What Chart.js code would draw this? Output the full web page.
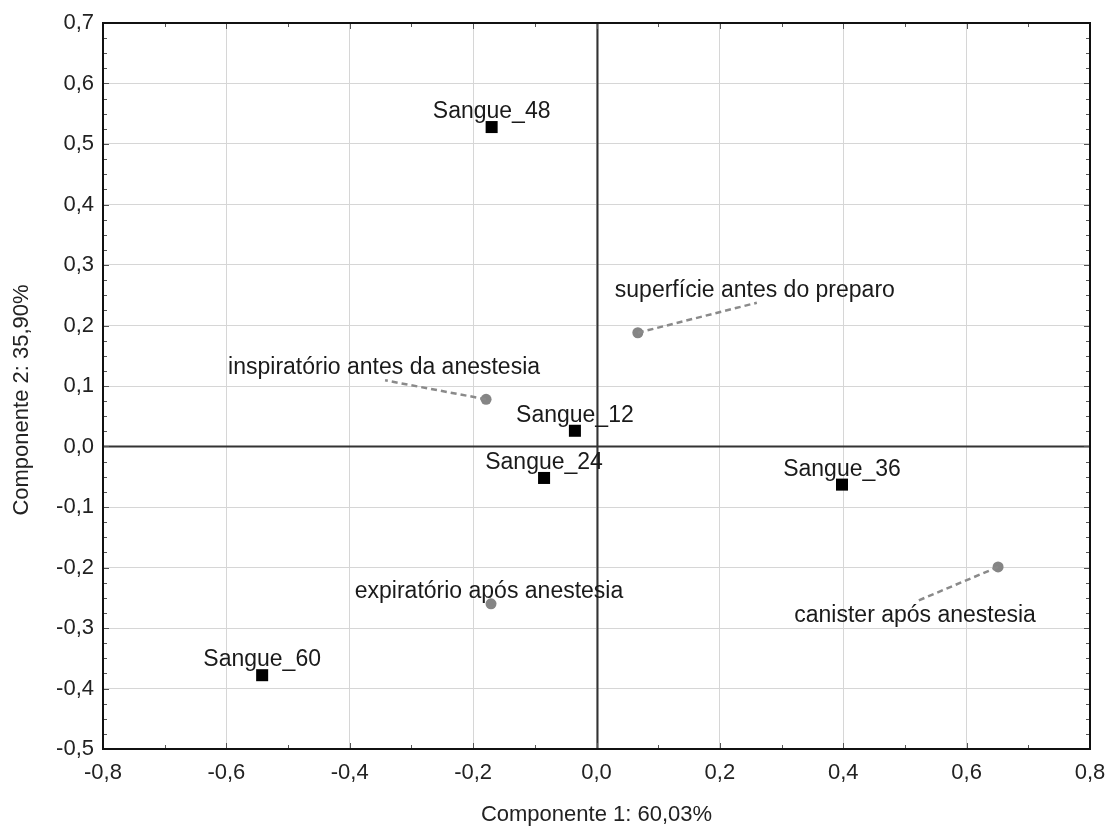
<!DOCTYPE html>
<html>
<head>
<meta charset="utf-8">
<script src="https://cdn.jsdelivr.net/npm/chart.js@4/dist/chart.umd.min.js"></script>
<style>
  html,body{margin:0;padding:0;background:#fff}
  #wrap{width:1110px;height:828px}
</style>
</head>
<body>
<div id="wrap"><canvas id="pca" width="1110" height="828"></canvas></div>
<script>
// --- dados (leitura do gráfico) ---
const sangueLabels = ["Sangue_12", "Sangue_24", "Sangue_36", "Sangue_48", "Sangue_60"];
const sangueX = [-0.035, -0.085, 0.398, -0.170, -0.542];
const sangueY = [0.026, -0.052, -0.063, 0.528, -0.378];

const amostraLabels = ["superfície antes do preparo", "inspiratório antes da anestesia", "expiratório após anestesia", "canister após anestesia"];
const amostraX = [0.067, -0.179, -0.171, 0.651];
const amostraY = [0.188, 0.078, -0.260, -0.199];

const xTicks = [-0.8, -0.6, -0.4, -0.2, 0.0, 0.2, 0.4, 0.6, 0.8];
const yTicks = [-0.5, -0.4, -0.3, -0.2, -0.1, 0.0, 0.1, 0.2, 0.3, 0.4, 0.5, 0.6, 0.7];

const xTitle = "Componente 1: 60,03%";
const yTitle = "Componente 2: 35,90%";

// posição dos rótulos em px relativa ao ponto: [dx, dy(baseline)], linha guia opcional
const sangueOffset = [0, -9];
const amostraOffset = [
  {dx: 117, dy: -36, lead: [119, -30]},
  {dx: -102, dy: -25, lead: [-101, -19]},
  {dx: -2, dy: -6, lead: null},
  {dx: -83, dy: 55, lead: [-83, 35]},
];

const FONT = "'Liberation Sans', Arial, sans-serif";
const fmt = v => (Math.abs(v) < 1e-9 ? 0 : v).toFixed(1).replace(".", ",");

const pcaDecor = {
  id: "pcaDecor",
  beforeDatasetsDraw(chart){
    const {ctx, chartArea:a, scales:{x, y}} = chart;
    ctx.save();
    // eixos em zero
    ctx.strokeStyle = "#333";
    ctx.lineWidth = 2;
    ctx.beginPath();
    const x0 = Math.round(x.getPixelForValue(0)) + 0.5;
    const y0 = Math.round(y.getPixelForValue(0)) + 0.5;
    ctx.moveTo(x0, a.top); ctx.lineTo(x0, a.bottom);
    ctx.moveTo(a.left, y0); ctx.lineTo(a.right, y0);
    ctx.stroke();

    // marcas internas (maiores e menores)
    ctx.strokeStyle = "#555";
    ctx.lineWidth = 1;
    ctx.beginPath();
    for (let i = 0; i <= 16; i++){
      const v = -0.8 + i * 0.1;
      const px = Math.round(x.getPixelForValue(v)) + 0.5;
      const len = i % 2 === 0 ? 6 : 4;
      ctx.moveTo(px, a.bottom); ctx.lineTo(px, a.bottom - len);
      ctx.moveTo(px, a.top); ctx.lineTo(px, a.top + len);
    }
    for (let i = 0; i <= 48; i++){
      const v = -0.5 + i * 0.025;
      const py = Math.round(y.getPixelForValue(v)) + 0.5;
      const len = i % 4 === 0 ? 6 : 4;
      ctx.moveTo(a.left, py); ctx.lineTo(a.left + len, py);
      ctx.moveTo(a.right, py); ctx.lineTo(a.right - len, py);
    }
    ctx.stroke();

    // moldura
    ctx.strokeStyle = "#111";
    ctx.lineWidth = 2;
    ctx.strokeRect(a.left, a.top, a.right - a.left, a.bottom - a.top);
    ctx.restore();
  },
  afterDatasetsDraw(chart){
    const {ctx} = chart;
    ctx.save();
    ctx.font = "23px " + FONT;
    ctx.fillStyle = "#1a1a1a";
    ctx.textAlign = "center";
    ctx.textBaseline = "alphabetic";

    const m1 = chart.getDatasetMeta(1);
    m1.data.forEach((pt, i) => {
      const o = amostraOffset[i];
      if (o.lead){
        ctx.save();
        ctx.strokeStyle = "#8a8a8a";
        ctx.lineWidth = 2.5;
        ctx.setLineDash([6, 4]);
        ctx.beginPath();
        ctx.moveTo(pt.x, pt.y);
        ctx.lineTo(pt.x + o.lead[0], pt.y + o.lead[1]);
        ctx.stroke();
        ctx.restore();
      }
      ctx.fillText(amostraLabels[i], pt.x + o.dx, pt.y + o.dy);
    });

    const m0 = chart.getDatasetMeta(0);
    m0.data.forEach((pt, i) => {
      ctx.fillText(sangueLabels[i], pt.x + sangueOffset[0], pt.y + sangueOffset[1]);
    });

    // títulos dos eixos
    ctx.fillStyle = "#222";
    ctx.font = "22px " + FONT;
    ctx.textBaseline = "middle";
    ctx.fillText(xTitle, (chart.chartArea.left + chart.chartArea.right) / 2, 815);
    ctx.translate(22, (chart.chartArea.top + chart.chartArea.bottom) / 2 + 14);
    ctx.rotate(-Math.PI / 2);
    ctx.fillText(yTitle, 0, 0);
    ctx.restore();
  }
};

new Chart(document.getElementById("pca"), {
  type: "scatter",
  data: {
    datasets: [
      {
        label: "Sangue",
        data: sangueX.map((v, i) => ({x: v, y: sangueY[i]})),
        pointStyle: "rect",
        pointRadius: 8.5,
        backgroundColor: "#000",
        borderColor: "#000",
        borderWidth: 0,
      },
      {
        label: "Amostras",
        data: amostraX.map((v, i) => ({x: v, y: amostraY[i]})),
        pointStyle: "circle",
        pointRadius: 5.5,
        backgroundColor: "#858585",
        borderColor: "#858585",
        borderWidth: 0,
      },
    ]
  },
  options: {
    responsive: false,
    animation: false,
    devicePixelRatio: 1,
    layout: { padding: { top: 23, right: 0, left: 0, bottom: 0 } },
    plugins: { legend: { display: false }, tooltip: { enabled: false } },
    scales: {
      x: {
        type: "linear", min: -0.8, max: 0.8,
        afterBuildTicks: s => { s.ticks = xTicks.map(v => ({value: v})); },
        afterFit: s => { s.height = 79; s.paddingRight = 20; },
        border: { display: false },
        grid: { color: "#d6d6d6", lineWidth: 1, drawTicks: false },
        ticks: { padding: 11, color: "#222", font: { family: FONT, size: 22 }, maxRotation: 0, callback: v => fmt(v) },
      },
      y: {
        type: "linear", min: -0.5, max: 0.7,
        afterBuildTicks: s => { s.ticks = yTicks.map(v => ({value: v})); },
        afterFit: s => { s.width = 103; },
        border: { display: false },
        grid: { color: "#d6d6d6", lineWidth: 1, drawTicks: false },
        ticks: { padding: 9, color: "#222", font: { family: FONT, size: 22 }, callback: v => fmt(v) },
      }
    }
  },
  plugins: [pcaDecor]
});
</script>
</body>
</html>
